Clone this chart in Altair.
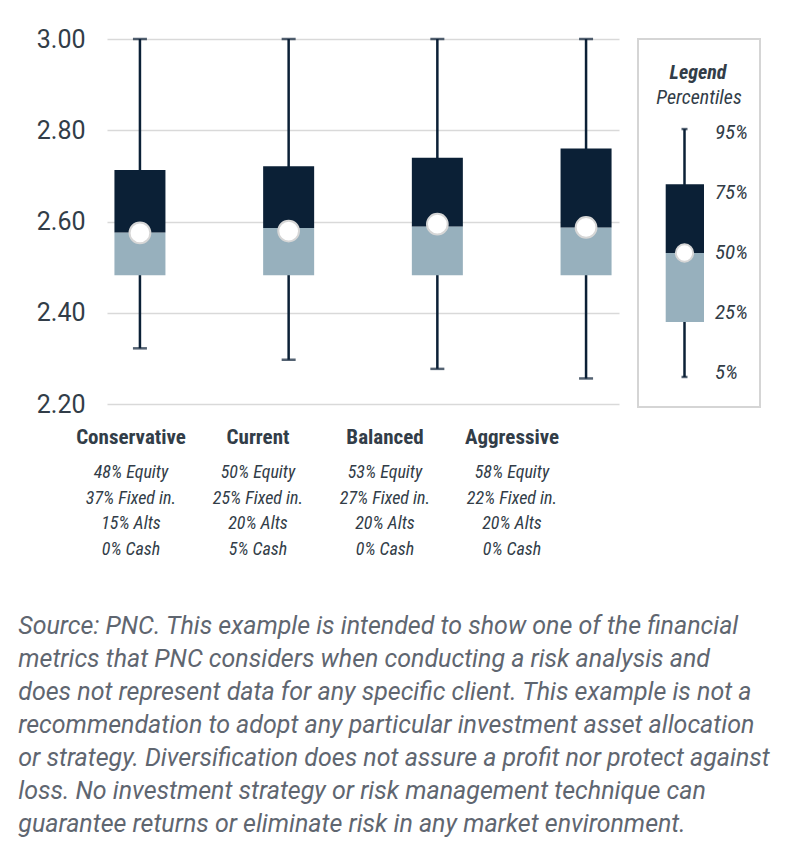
import altair as alt
import pandas as pd

# ---- data ----
names = ["Conservative", "Current", "Balanced", "Aggressive"]
p5 = [2.322, 2.297, 2.277, 2.256]
p25 = [2.482, 2.482, 2.482, 2.482]
p50 = [2.576, 2.586, 2.589, 2.587]
p75 = [2.713, 2.721, 2.740, 2.760]
p95 = [3.000, 3.000, 3.000, 3.000]
means = [2.575, 2.579, 2.594, 2.587]
alloc = [
    "48% Equity\n37% Fixed in.\n15% Alts\n0% Cash",
    "50% Equity\n25% Fixed in.\n20% Alts\n5% Cash",
    "53% Equity\n27% Fixed in.\n20% Alts\n0% Cash",
    "58% Equity\n22% Fixed in.\n20% Alts\n0% Cash",
]
y_ticks = [2.2, 2.4, 2.6, 2.8, 3.0]

legend_pct = [5, 25, 50, 75, 95]
legend_labels = ["5%", "25%", "50%", "75%", "95%"]

source_lines = [
    "Source: PNC. This example is intended to show one of the financial",
    "metrics that PNC considers when conducting a risk analysis and",
    "does not represent data for any specific client. This example is not a",
    "recommendation to adopt any particular investment asset allocation",
    "or strategy. Diversification does not assure a profit nor protect against",
    "loss. No investment strategy or risk management technique can",
    "guarantee returns or eliminate risk in any market environment.",
]

DARK = "#0b2036"
LIGHT = "#97b0bd"
TEXT = "#323d48"
GRID = "#d9d9d9"
FONT = "Roboto Condensed"
FONT_WIDE = "Roboto"

df = pd.DataFrame({"name": names, "p5": p5, "p25": p25, "p50": p50,
                   "p75": p75, "p95": p95, "mean": means, "alloc": alloc})

x = alt.X("name:N", sort=names, axis=None,
          scale=alt.Scale(paddingInner=0.657, paddingOuter=0.05))
yscale = alt.Scale(domain=[2.2, 3.0], nice=False, zero=False)

base = alt.Chart(df)

whisker = base.mark_rule(color=DARK, strokeWidth=2.5).encode(
    x=x,
    y=alt.Y("p5:Q", scale=yscale, title=None,
            axis=alt.Axis(values=y_ticks, format=".2f", grid=True,
                          gridColor=GRID, gridWidth=1.5, domain=False,
                          ticks=False, labelFontSize=25, labelColor=TEXT,
                          labelFont=FONT_WIDE, labelPadding=22)),
    y2="p95:Q",
)
cap_top = base.mark_tick(color=DARK, thickness=2.5, size=14, orient="horizontal").encode(
    x=x, y=alt.Y("p95:Q", scale=yscale))
cap_bot = base.mark_tick(color=DARK, thickness=2.5, size=14, orient="horizontal").encode(
    x=x, y=alt.Y("p5:Q", scale=yscale))
low_box = base.mark_bar(color=LIGHT).encode(
    x=x, y=alt.Y("p25:Q", scale=yscale), y2="p50:Q")
up_box = base.mark_bar(color=DARK).encode(
    x=x, y=alt.Y("p50:Q", scale=yscale), y2="p75:Q")
mean_pt = base.mark_circle(color="white", opacity=1, stroke="#d6d6d6",
                           strokeWidth=2, size=430).encode(
    x=x, y=alt.Y("mean:Q", scale=yscale))

boxes = alt.layer(whisker, cap_top, cap_bot, low_box, up_box, mean_pt)

xl = alt.X("name:N", sort=names, axis=None,
           scale=alt.Scale(type="point", range=[24, 405], padding=0))
name_txt = base.mark_text(font=FONT, fontWeight="bold", fontSize=21,
                          color=TEXT, baseline="middle").encode(
    x=xl, y=alt.value(399), text="name:N")
alloc_txt = base.mark_text(font=FONT, fontStyle="italic", fontSize=18,
                           color=TEXT, baseline="middle", lineBreak="\n",
                           lineHeight=25.5).encode(
    x=xl, y=alt.value(434), text="alloc:N")
labels = alt.layer(name_txt, alloc_txt)

main = alt.layer(boxes, labels).resolve_scale(x="independent").properties(
    width=512, height=365)

# ---- legend panel ----
ldf = pd.DataFrame({"p5": [legend_pct[0]], "p25": [legend_pct[1]],
                    "p50": [legend_pct[2]], "p75": [legend_pct[3]],
                    "p95": [legend_pct[4]]})
lab_df = pd.DataFrame({"label": legend_labels})
head_df = pd.DataFrame({"t": ["Legend"]})
sub_df = pd.DataFrame({"t": ["Percentiles"]})

lscale = alt.Scale(domain=[-5.9, 127.7], nice=False, zero=False)
lb = alt.Chart(ldf)
l_wh = lb.mark_rule(color=DARK, strokeWidth=2.5).encode(
    x=alt.value(46.5), y=alt.Y("p5:Q", scale=lscale, axis=None), y2="p95:Q")
l_cap1 = lb.mark_tick(color=DARK, thickness=2.5, size=6, orient="horizontal").encode(
    x=alt.value(46.5), y=alt.Y("p95:Q", scale=lscale, axis=None))
l_cap2 = lb.mark_tick(color=DARK, thickness=2.5, size=6, orient="horizontal").encode(
    x=alt.value(46.5), y=alt.Y("p5:Q", scale=lscale, axis=None))
l_low = lb.mark_bar(color=LIGHT).encode(
    x=alt.value(27.7), x2=alt.value(66), y=alt.Y("p25:Q", scale=lscale, axis=None), y2="p50:Q")
l_up = lb.mark_bar(color=DARK).encode(
    x=alt.value(27.7), x2=alt.value(66), y=alt.Y("p50:Q", scale=lscale, axis=None), y2="p75:Q")
l_pt = lb.mark_circle(color="white", opacity=1, stroke="#d6d6d6", strokeWidth=2,
                      size=300).encode(
    x=alt.value(46.5), y=alt.Y("p50:Q", scale=lscale, axis=None))
l_head = alt.Chart(head_df).mark_text(font=FONT, fontStyle="italic", fontWeight="bold",
                                      fontSize=20, color=TEXT, baseline="middle").encode(
    x=alt.value(60), y=alt.value(34), text="t:N")
l_sub = alt.Chart(sub_df).mark_text(font=FONT, fontStyle="italic", fontSize=20,
                                    color=TEXT, baseline="middle").encode(
    x=alt.value(61), y=alt.value(59), text="t:N")
l_marks = alt.layer(l_wh, l_cap1, l_cap2, l_low, l_up, l_pt, l_head, l_sub)

l_lab = alt.Chart(lab_df).mark_text(font=FONT, fontStyle="italic", fontSize=21,
                                    color=TEXT, align="left", baseline="middle").encode(
    x=alt.value(77),
    y=alt.Y("label:N", sort=legend_labels[::-1], axis=None,
            scale=alt.Scale(type="point", range=[94, 334], padding=0)),
    text="label:N")

legend = alt.layer(l_marks, l_lab).resolve_scale(y="independent").properties(
    width=122, height=368,
    view=alt.ViewBackground(stroke="#d5d5d5", strokeWidth=2))

chart = alt.hconcat(main, legend, spacing=19, bounds="flush").properties(
    title=alt.TitleParams(text=source_lines, orient="bottom", anchor="start",
                          font=FONT_WIDE, fontSize=25, fontStyle="italic",
                          fontWeight="normal", color="#5f6670", lineHeight=33,
                          offset=55, dx=-18),
    padding={"left": 10, "top": 19, "right": 5, "bottom": 5},
).configure_view(strokeWidth=0)

chart.save("out.html", embed_options={"renderer": "svg", "actions": False})
